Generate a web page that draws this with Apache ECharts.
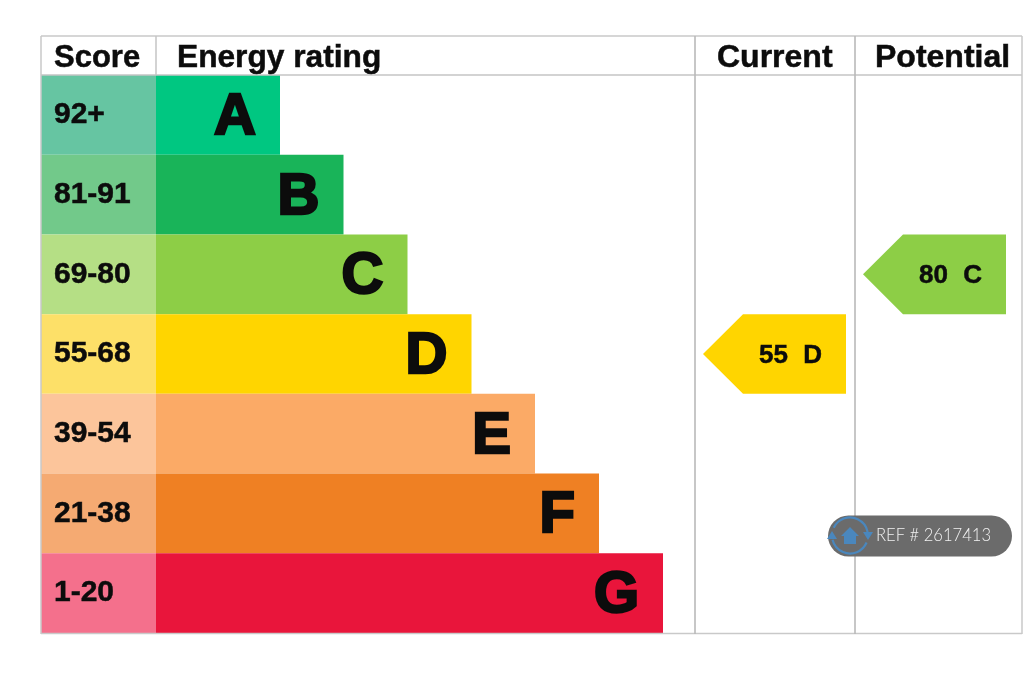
<!DOCTYPE html>
<html><head><meta charset="utf-8">
<style>html,body{margin:0;padding:0;background:#fff}#c{width:1024px;height:688px}</style>
<script src="https://cdn.jsdelivr.net/npm/echarts@6/dist/echarts.min.js"></script>
</head><body><div id="c"></div>
<script>
const scoreBands = ['92+','81-91','69-80','55-68','39-54','21-38','1-20'];
const ratingLetters = ['A','B','C','D','E','F','G'];
const ratingLengths = [124,187.5,251.5,315.5,379,443,507];
const scoreCellWidths = [-115,-115,-115,-115,-115,-115,-115];
const ratingColors = ['#00c781','#19b459','#8dce46','#ffd500','#fbaa66','#ef8023','#e9153b'];
const scoreColors = ['#66c5a2','#72c98a','#b5df85','#fde068','#fcc59b','#f5aa72','#f4708c'];
const currentRating = ['55-68', 55, 'D'];
const potentialRating = ['69-80', 80, 'C'];
const headers = ['Score','Energy rating','Current','Potential'];
const refText = 'REF # 2617413';

const font = 'Liberation Sans';
const ink = '#0c0c0c';
const blue = '#4a87bd';
const chart = echarts.init(document.getElementById('c'), null, {renderer:'canvas'});

function arrowSeries(rating, colStart) {
  return {
    type:'custom', coordinateSystem:'cartesian2d', silent:true, z:4, clip:false,
    data:[[colStart, rating[0], rating[1], rating[2]]],
    encode:{x:0,y:1},
    renderItem(params, api){
      const p = api.coord([api.value(0), rating[0]]);
      const h = api.size([0,1])[1];
      const tip = p[0]+8, sh = tip+40, end = p[0]+151, t = p[1]-h/2, b = p[1]+h/2;
      const color = ratingColors[ratingLetters.indexOf(rating[2])];
      return {type:'group', children:[
        {type:'polygon', shape:{points:[[tip,p[1]],[sh,t],[end,t],[end,b],[sh,b]]}, style:{fill:color}},
        {type:'text', style:{x:tip+56, y:p[1]+2, text:String(rating[1]), fontFamily:font, fontWeight:'bold', fontSize:26,
          fill:ink, stroke:ink, lineWidth:0.5, textAlign:'left', textVerticalAlign:'middle'}},
        {type:'text', style:{x:tip+119, y:p[1]+2, text:rating[2], fontFamily:font, fontWeight:'bold', fontSize:26,
          fill:ink, stroke:ink, lineWidth:0.5, textAlign:'right', textVerticalAlign:'middle'}}
      ]};
    }
  };
}

const vLine = (x,y1,y2,c,w)=>({type:'line',silent:true,z:10,shape:{x1:x,y1:y1,x2:x,y2:y2},style:{stroke:c,lineWidth:w}});
const hLine = (y,x1,x2,c,w)=>({type:'line',silent:true,z:10,shape:{x1:x1,y1:y,x2:x2,y2:y},style:{stroke:c,lineWidth:w}});
const head = (t,x,align,size)=>({type:'text',silent:true,z:11,style:{x:x,y:58,text:t,fontFamily:font,fontWeight:'bold',fontSize:size,fill:ink,stroke:ink,lineWidth:0.5,textAlign:align,textVerticalAlign:'middle'}});

chart.setOption({
  animation:false,
  backgroundColor:'#ffffff',
  grid:{left:41,top:75,right:2,bottom:55,containLabel:false},
  xAxis:{type:'value',min:-115,max:866,show:false},
  yAxis:{type:'category',data:scoreBands,inverse:true,show:false},
  series:[
    {type:'bar',silent:true,barGap:'-100%',barCategoryGap:0,
     data:scoreCellWidths.map((v,i)=>({value:v,itemStyle:{color:scoreColors[i]},
       label:{show:true,position:'insideLeft',distance:13,formatter:scoreBands[i],
         fontFamily:font,fontWeight:'bold',fontSize:30,color:ink,textBorderColor:ink,textBorderWidth:0.5,offset:[0,0]}}))},
    {type:'bar',silent:true,barGap:'-100%',barCategoryGap:0,
     data:ratingLengths.map((v,i)=>({value:v,itemStyle:{color:ratingColors[i]},
       label:{show:true,position:'insideRight',distance:24,formatter:ratingLetters[i],
         fontFamily:font,fontWeight:'bold',fontSize:58,color:ink,textBorderColor:ink,textBorderWidth:2.5,offset:[0,3]}}))},
    arrowSeries(currentRating,539),
    arrowSeries(potentialRating,699)
  ],
  graphic:[
    hLine(36,41,1022,'#c9c9c9',1.5), hLine(75,41,1022,'#c4c4c4',1.5), hLine(633.5,41,1022,'#c9c9c9',1.5),
    vLine(41,36,634,'#c9c9c9',1.5), vLine(156,36,75,'#c4c4c4',1.5), vLine(695,36,634,'#b9b9b9',1.6),
    vLine(855,36,634,'#b9b9b9',1.6), vLine(1022,36,634,'#c9c9c9',1.5),
    head(headers[0],54,'left',31), head(headers[1],177,'left',31.7), head(headers[2],717,'left',32), head(headers[3],875,'left',32),
    {type:'group',z:20,silent:true,children:[
      {type:'rect',shape:{x:828,y:515.5,width:184,height:41,r:20.5},style:{fill:'#6b6b6b'},z:20},
      {type:'arc',shape:{cx:850,cy:535.5,r:18,startAngle:-2.7,endAngle:-0.2},style:{stroke:blue,lineWidth:2.2,fill:null},z:21},
      {type:'arc',shape:{cx:850,cy:535.5,r:18,startAngle:0.4,endAngle:2.9},style:{stroke:blue,lineWidth:2.2,fill:null},z:21},
      {type:'polygon',shape:{points:[[863,532],[873,532],[868,540]]},style:{fill:blue},z:21},
      {type:'polygon',shape:{points:[[827,539],[837,539],[832,531]]},style:{fill:blue},z:21},
      {type:'polygon',shape:{points:[[841,536],[850,527],[859,536],[856,536],[856,544],[844,544],[844,536]]},style:{fill:blue},z:21},
      {type:'text',style:{x:876,y:535.5,text:refText,fontFamily:'Lato',fontWeight:300,fontSize:16.6,fill:'#f2f2f2',textAlign:'left',textVerticalAlign:'middle'},z:21}
    ]}
  ]
});
</script></body></html>
